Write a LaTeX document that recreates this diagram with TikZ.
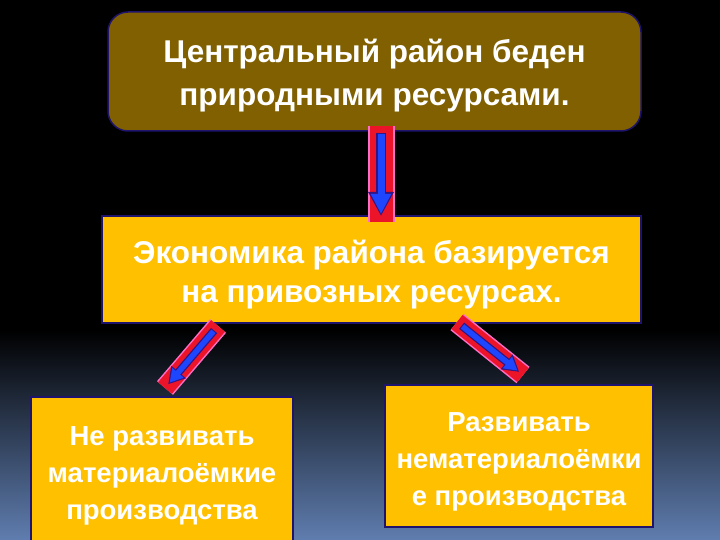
\documentclass[tikz,border=0pt]{standalone}
\usepackage{fontspec}
\setmainfont{Liberation Sans}
\usetikzlibrary{arrows.meta,calc}
\definecolor{brownbox}{RGB}{128,96,0}
\definecolor{goldbox}{RGB}{255,192,0}
\definecolor{navyline}{RGB}{30,20,110}
\definecolor{barred}{RGB}{235,20,40}
\definecolor{barpink}{RGB}{255,110,200}
\definecolor{arrblue}{RGB}{30,70,255}
\definecolor{arrnavy}{RGB}{50,20,130}
\definecolor{bgblue}{RGB}{95,125,175}
\tikzset{
  box/.style={draw=navyline, line width=1.5pt, inner sep=0pt},
  lbl/.style={text=white, align=center, inner sep=0pt},
  toptext/.style={lbl, font=\bfseries\fontsize{31.5}{43}\selectfont},
  midtext/.style={lbl, font=\bfseries\fontsize{31.5}{39}\selectfont},
  smalltext/.style={lbl, font=\bfseries\fontsize{27.5}{37}\selectfont},
  barout/.style={draw=barpink, line width=#1, line cap=butt},
  barin/.style={draw=barred, line width=#1, line cap=butt},
  arrout/.style={draw=arrnavy, line width=10pt, -{Triangle[width=24pt,length=24pt]}},
  arrin/.style={draw=arrblue, line width=7pt, -{Triangle[width=19pt,length=20pt]}},
}
\begin{document}
\begin{tikzpicture}[x=1pt,y=-1pt]
\useasboundingbox (0,0) rectangle (720,540);
\fill[black] (0,0) rectangle (720,540);
\shade[top color=black, bottom color=bgblue] (0,330) rectangle (720,540);
\begin{scope}
\clip (0,0) rectangle (720,540);
\node[box, fill=brownbox, rounded corners=20pt, minimum width=533pt, minimum height=119pt] (top) at (374.5,71.5) {};
\node[toptext] (toptxt) at ($(top.center)+(0,4.5)$) {Центральный район беден\\природными ресурсами.};
\node[box, fill=goldbox, minimum width=539pt, minimum height=107pt] (mid) at (371.5,269.5) {};
\node[midtext] (midtxt) at ($(mid.center)+(0,5.5)$) {Экономика района базируется\\на привозных ресурсах.};
\node[box, fill=goldbox, minimum width=262pt, minimum height=151pt] (bl) at (162,472.5) {};
\node[smalltext] (bltxt) at ($(bl.center)+(0,3)$) {Не развивать\\материалоёмкие\\производства};
\node[box, fill=goldbox, minimum width=268pt, minimum height=142pt] (br) at (519,456) {};
\node[smalltext] (brtxt) at ($(br.center)+(0,6)$) {Развивать\\нематериалоёмки\\е производства};
\end{scope}
% vertical arrow
\coordinate (v1) at (381,126);
\coordinate (v2) at (381,222);
\draw[barout=27pt] (v1) -- (v2);
\draw[barin=23pt] (v1) -- (v2);
\draw[arrout, shorten <=7pt, shorten >=6pt] (v1) -- (v2);
\draw[arrin, shorten <=8pt, shorten >=8pt] (v1) -- (v2);
% left arrow
\coordinate (l1) at (218,326);
\coordinate (l2) at (165,388);
\draw[barout=21pt] (l1) -- (l2);
\draw[barin=18pt] (l1) -- (l2);
\draw[arrout, line width=8pt, -{Triangle[width=18pt,length=16pt]}, shorten <=6pt, shorten >=5pt] (l1) -- (l2);
\draw[arrin, line width=5.5pt, -{Triangle[width=14pt,length=13pt]}, shorten <=7pt, shorten >=7pt] (l1) -- (l2);
% right arrow
\coordinate (r1) at (457,322);
\coordinate (r2) at (523,375);
\draw[barout=21pt] (r1) -- (r2);
\draw[barin=18pt] (r1) -- (r2);
\draw[arrout, line width=8pt, -{Triangle[width=18pt,length=16pt]}, shorten <=6pt, shorten >=5pt] (r1) -- (r2);
\draw[arrin, line width=5.5pt, -{Triangle[width=14pt,length=13pt]}, shorten <=7pt, shorten >=7pt] (r1) -- (r2);
\end{tikzpicture}
\end{document}
